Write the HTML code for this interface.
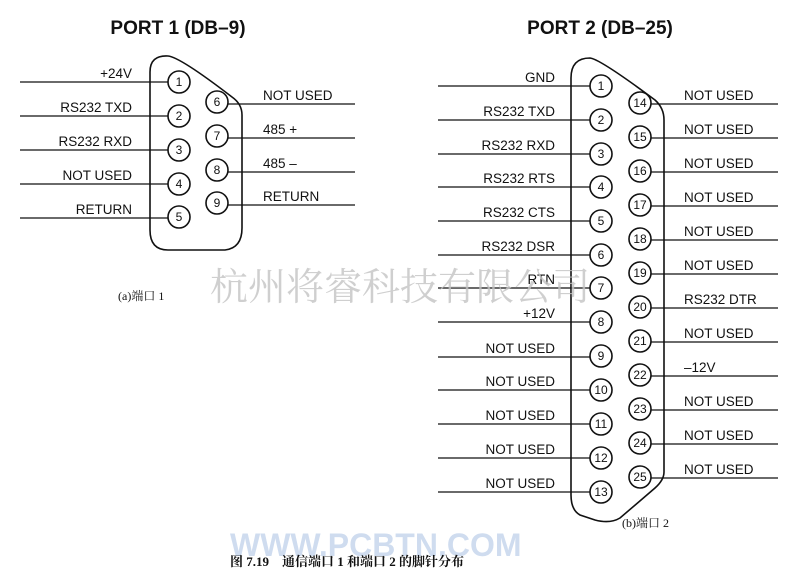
<!DOCTYPE html>
<html><head><meta charset="utf-8"><style>
body{margin:0;background:#fff;width:800px;height:586px;overflow:hidden}
svg{display:block}
.t{font-family:"Liberation Sans",sans-serif;font-size:13.5px;fill:#111}
.r{text-anchor:end}
.n{font-family:"Liberation Sans",sans-serif;font-size:12px;text-anchor:middle;fill:#111}
.h{font-family:"Liberation Sans",sans-serif;font-size:19px;font-weight:bold;text-anchor:middle;fill:#111}
.c{font-family:"Liberation Serif","Noto Serif CJK SC",serif;font-size:12px;fill:#111}
line{stroke:#111;stroke-width:1.3}
circle{fill:#fff;stroke:#111;stroke-width:1.6}
path{fill:none;stroke:#111;stroke-width:1.6}
</style></head><body>
<svg width="800" height="586" viewBox="0 0 800 586">
<text class="h" x="178" y="34">PORT 1 (DB–9)</text>
<text class="h" x="600" y="34">PORT 2 (DB–25)</text>
<path d="M150 230 L150 72 Q150 55 168 56 Q180 57 232 97 Q242 104 242 115 L242 228 Q242 248 225 250 L168 250 Q150 250 150 230 Z"/>
<g>
<line x1="20" y1="82" x2="168" y2="82"/><line x1="20" y1="116" x2="168" y2="116"/><line x1="20" y1="150" x2="168" y2="150"/><line x1="20" y1="184" x2="168" y2="184"/><line x1="20" y1="218" x2="168" y2="218"/>
<line x1="228" y1="104" x2="355" y2="104"/><line x1="228" y1="138" x2="355" y2="138"/><line x1="228" y1="172" x2="355" y2="172"/><line x1="228" y1="205" x2="355" y2="205"/>
</g>
<text class="t r" x="132" y="78">+24V</text>
<text class="t r" x="132" y="112">RS232 TXD</text>
<text class="t r" x="132" y="146">RS232 RXD</text>
<text class="t r" x="132" y="180">NOT USED</text>
<text class="t r" x="132" y="214">RETURN</text>
<text class="t" x="263" y="100">NOT USED</text>
<text class="t" x="263" y="134">485 +</text>
<text class="t" x="263" y="168">485 –</text>
<text class="t" x="263" y="201">RETURN</text>
<g>
<circle cx="179" cy="82" r="11"/><circle cx="179" cy="116" r="11"/><circle cx="179" cy="150" r="11"/><circle cx="179" cy="184" r="11"/><circle cx="179" cy="217" r="11"/>
<circle cx="217" cy="102" r="11"/><circle cx="217" cy="136" r="11"/><circle cx="217" cy="170" r="11"/><circle cx="217" cy="203" r="11"/>
</g>
<text class="n" x="179" y="86">1</text><text class="n" x="179" y="120">2</text><text class="n" x="179" y="154">3</text><text class="n" x="179" y="188">4</text><text class="n" x="179" y="221">5</text>
<text class="n" x="217" y="106">6</text><text class="n" x="217" y="140">7</text><text class="n" x="217" y="174">8</text><text class="n" x="217" y="207">9</text>
<text class="c" x="118" y="300">(a)端口 1</text>

<path d="M571 495 L571 78 Q571 58 590 58 Q600 59 655 100 Q664 108 664 120 L664 472 Q664 480 655 488 L620 518 Q610 524 595 520 L580 515 Q571 510 571 495 Z"/>
<g>
<line x1="438" y1="86" x2="590" y2="86"/><line x1="438" y1="120" x2="590" y2="120"/><line x1="438" y1="154" x2="590" y2="154"/><line x1="438" y1="187" x2="590" y2="187"/><line x1="438" y1="221" x2="590" y2="221"/><line x1="438" y1="255" x2="590" y2="255"/><line x1="438" y1="288" x2="590" y2="288"/><line x1="438" y1="322" x2="590" y2="322"/><line x1="438" y1="357" x2="590" y2="357"/><line x1="438" y1="390" x2="590" y2="390"/><line x1="438" y1="424" x2="590" y2="424"/><line x1="438" y1="458" x2="590" y2="458"/><line x1="438" y1="492" x2="590" y2="492"/>
<line x1="650" y1="104" x2="778" y2="104"/><line x1="650" y1="138" x2="778" y2="138"/><line x1="650" y1="172" x2="778" y2="172"/><line x1="650" y1="206" x2="778" y2="206"/><line x1="650" y1="240" x2="778" y2="240"/><line x1="650" y1="274" x2="778" y2="274"/><line x1="650" y1="308" x2="778" y2="308"/><line x1="650" y1="342" x2="778" y2="342"/><line x1="650" y1="376" x2="778" y2="376"/><line x1="650" y1="410" x2="778" y2="410"/><line x1="650" y1="444" x2="778" y2="444"/><line x1="650" y1="478" x2="778" y2="478"/>
</g>
<text class="t r" x="555" y="82">GND</text>
<text class="t r" x="555" y="116">RS232 TXD</text>
<text class="t r" x="555" y="150">RS232 RXD</text>
<text class="t r" x="555" y="183">RS232 RTS</text>
<text class="t r" x="555" y="217">RS232 CTS</text>
<text class="t r" x="555" y="251">RS232 DSR</text>
<text class="t r" x="555" y="284">RTN</text>
<text class="t r" x="555" y="318">+12V</text>
<text class="t r" x="555" y="353">NOT USED</text>
<text class="t r" x="555" y="386">NOT USED</text>
<text class="t r" x="555" y="420">NOT USED</text>
<text class="t r" x="555" y="454">NOT USED</text>
<text class="t r" x="555" y="488">NOT USED</text>
<text class="t" x="684" y="100">NOT USED</text>
<text class="t" x="684" y="134">NOT USED</text>
<text class="t" x="684" y="168">NOT USED</text>
<text class="t" x="684" y="202">NOT USED</text>
<text class="t" x="684" y="236">NOT USED</text>
<text class="t" x="684" y="270">NOT USED</text>
<text class="t" x="684" y="304">RS232 DTR</text>
<text class="t" x="684" y="338">NOT USED</text>
<text class="t" x="684" y="372">–12V</text>
<text class="t" x="684" y="406">NOT USED</text>
<text class="t" x="684" y="440">NOT USED</text>
<text class="t" x="684" y="474">NOT USED</text>
<g>
<circle cx="601" cy="86" r="11"/><circle cx="601" cy="120" r="11"/><circle cx="601" cy="154" r="11"/><circle cx="601" cy="187" r="11"/><circle cx="601" cy="221" r="11"/><circle cx="601" cy="255" r="11"/><circle cx="601" cy="288" r="11"/><circle cx="601" cy="322" r="11"/><circle cx="601" cy="356" r="11"/><circle cx="601" cy="390" r="11"/><circle cx="601" cy="424" r="11"/><circle cx="601" cy="458" r="11"/><circle cx="601" cy="492" r="11"/>
<circle cx="640" cy="103" r="11"/><circle cx="640" cy="137" r="11"/><circle cx="640" cy="171" r="11"/><circle cx="640" cy="205" r="11"/><circle cx="640" cy="239" r="11"/><circle cx="640" cy="273" r="11"/><circle cx="640" cy="307" r="11"/><circle cx="640" cy="341" r="11"/><circle cx="640" cy="375" r="11"/><circle cx="640" cy="409" r="11"/><circle cx="640" cy="443" r="11"/><circle cx="640" cy="477" r="11"/>
</g>
<g>
<text class="n" x="601" y="90">1</text><text class="n" x="601" y="124">2</text><text class="n" x="601" y="158">3</text><text class="n" x="601" y="191">4</text><text class="n" x="601" y="225">5</text><text class="n" x="601" y="259">6</text><text class="n" x="601" y="292">7</text><text class="n" x="601" y="326">8</text><text class="n" x="601" y="360">9</text><text class="n" x="601" y="394">10</text><text class="n" x="601" y="428">11</text><text class="n" x="601" y="462">12</text><text class="n" x="601" y="496">13</text>
<text class="n" x="640" y="107">14</text><text class="n" x="640" y="141">15</text><text class="n" x="640" y="175">16</text><text class="n" x="640" y="209">17</text><text class="n" x="640" y="243">18</text><text class="n" x="640" y="277">19</text><text class="n" x="640" y="311">20</text><text class="n" x="640" y="345">21</text><text class="n" x="640" y="379">22</text><text class="n" x="640" y="413">23</text><text class="n" x="640" y="447">24</text><text class="n" x="640" y="481">25</text>
</g>
<text class="c" x="622" y="527">(b)端口 2</text>
<text x="210" y="300" style="font-family:'Noto Serif CJK SC',serif;font-size:38px;fill:#c4c4c4;opacity:.8">杭州将睿科技有限公司</text>
<text x="230" y="556" style="font-family:'Liberation Sans',sans-serif;font-size:32px;font-weight:bold;fill:#c4d4ec;opacity:.8">WWW.PCBTN.COM</text>
<text x="230" y="566" style="font-family:'Liberation Serif','Noto Serif CJK SC',serif;font-size:13px;font-weight:bold;fill:#111">图 7.19　通信端口 1 和端口 2 的脚针分布</text>
</svg>
</body></html>
